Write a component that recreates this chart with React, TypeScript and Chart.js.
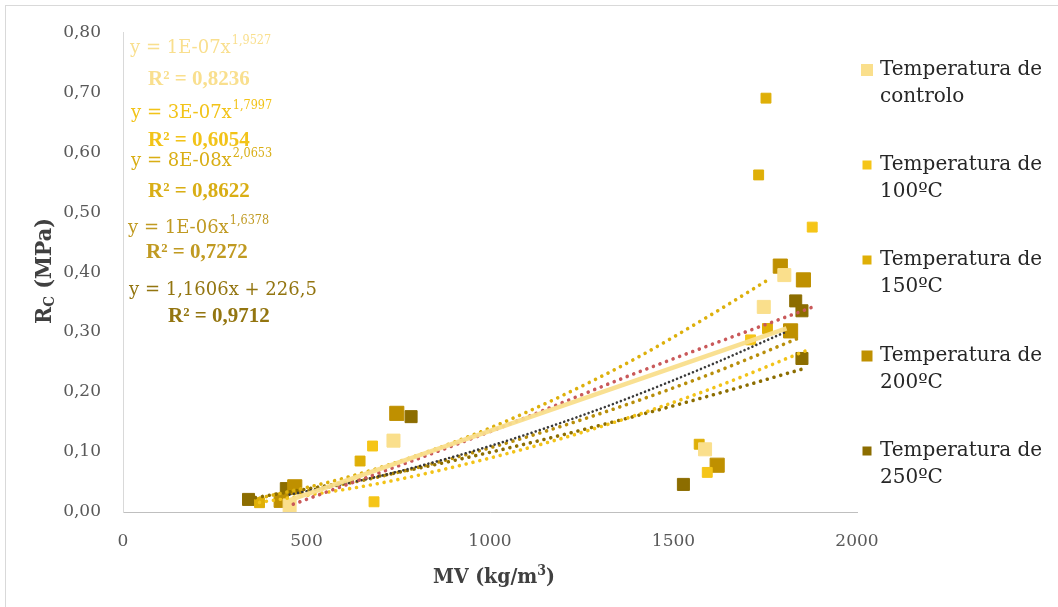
import React, { useEffect, useRef } from 'react';
import { Chart, registerables } from 'chart.js';

Chart.register(...registerables);

// ---------- data ----------
const legendLines: string[][] = [
  ['Temperatura de', 'controlo'],
  ['Temperatura de', '100ºC'],
  ['Temperatura de', '150ºC'],
  ['Temperatura de', '200ºC'],
  ['Temperatura de', '250ºC'],
];
const seriesColors = ['#FADF8C', '#F5C518', '#DFAF07', '#BF9000', '#8C6D00'];

const controloX = [454, 737, 1586, 1746, 1802];
const controloY = [0.011, 0.119, 0.1045, 0.342, 0.395];
const t100X = [680, 684, 1592, 1710, 1878];
const t100Y = [0.11, 0.017, 0.066, 0.287, 0.475];
const t150X = [372, 646, 1570, 1732, 1752, 1756];
const t150Y = [0.0155, 0.085, 0.113, 0.562, 0.69, 0.306];
const t200X = [431, 468, 746, 1619, 1791, 1819, 1854];
const t200Y = [0.0195, 0.042, 0.1645, 0.078, 0.41, 0.302, 0.387];
const t250X = [342, 445, 785, 1527, 1833, 1850, 1850];
const t250Y = [0.021, 0.039, 0.159, 0.046, 0.352, 0.3355, 0.256];

const trendPaleX = [454, 1808];
const trendPaleY = [0.02, 0.306];
const trendRedX = [464, 1000, 1395, 1876];
const trendRedY = [0.013, 0.134, 0.231, 0.341];
const trendGoldX = [372, 600, 800, 1000, 1200, 1400, 1600, 1752];
const trendGoldY = [0.023, 0.056, 0.094, 0.14, 0.195, 0.257, 0.328, 0.385];
const trendBlackX = [454, 700, 1000, 1300, 1600, 1805];
const trendBlackY = [0.029, 0.06, 0.11, 0.172, 0.245, 0.3];
const trendDarkGoldX = [431, 700, 1000, 1300, 1600, 1845];
const trendDarkGoldY = [0.027, 0.059, 0.107, 0.164, 0.23, 0.291];
const trendYellowX = [372, 700, 1000, 1300, 1600, 1865];
const trendYellowY = [0.016, 0.048, 0.09, 0.142, 0.205, 0.27];
const trendBrownX = [342, 700, 1000, 1300, 1600, 1849];
const trendBrownY = [0.022, 0.06, 0.0995, 0.1445, 0.194, 0.238];

const eqMain = ['y = 1E-07x', 'y = 3E-07x', 'y = 8E-08x', 'y = 1E-06x', 'y = 1,1606x + 226,5'];
const eqExp = ['1,9527', '1,7997', '2,0653', '1,6378', ''];
const eqR2 = ['0,8236', '0,6054', '0,8622', '0,7272', '0,9712'];
const eqColors = ['#F9DF8E', '#F2C318', '#D9AE15', '#C09A22', '#937510'];

const xTickValues = [0, 500, 1000, 1500, 2000];

// ---------- helpers ----------
const pts = (xs: number[], ys: number[]) => xs.map((x, i) => ({ x, y: ys[i] }));

const FONT = "'DejaVu Serif', serif";
const BOLD_FONT = "'DejaVu Serif Condensed', 'DejaVu Serif', serif";
const R2_FONT = "'Liberation Serif', serif";

const scatterSet = (label: string, xs: number[], ys: number[], color: string, r: number) => ({
  label,
  data: pts(xs, ys),
  backgroundColor: color,
  borderColor: color,
  borderWidth: 1,
  pointStyle: 'rect',
  pointRadius: r,
  pointHoverRadius: r,
  showLine: false,
  order: 1,
});

const trendSet = (xs: number[], ys: number[], color: string, width: number, dash: number[] | null) => ({
  label: '',
  data: pts(xs, ys),
  borderColor: color,
  backgroundColor: color,
  borderWidth: width,
  borderDash: dash || [],
  borderCapStyle: dash ? 'round' : 'butt',
  pointRadius: 0,
  showLine: true,
  cubicInterpolationMode: 'monotone',
  fill: false,
  order: 0,
});

const markerSides = [12, 9, 9, 11, 9];
const eqPos = [
  [130, 48, 148, 80],
  [131, 113, 148, 141],
  [131, 161, 148, 192],
  [128, 228, 146, 253],
  [129, 290, 168, 317],
];
const legendY = [70, 165, 260, 356, 451];

const overlayPlugin = {
  id: 'overlay',
  afterDraw(chart: any) {
    const ctx: CanvasRenderingContext2D = chart.ctx;
    ctx.save();
    ctx.textBaseline = 'middle';
    ctx.textAlign = 'left';
    // equations
    eqMain.forEach((t, i) => {
      const [x1, y1, x2, y2] = eqPos[i];
      ctx.fillStyle = eqColors[i];
      ctx.font = `18px ${FONT}`;
      ctx.fillText(t, x1, y1);
      if (eqExp[i]) {
        const w = ctx.measureText(t).width;
        ctx.font = `12.5px ${BOLD_FONT}`;
        ctx.fillText(eqExp[i], x1 + w + 1, y1 - 7);
      }
      ctx.font = `bold 21px ${R2_FONT}`;
      ctx.fillText('R² = ' + eqR2[i], x2, y2);
    });
    // legend
    legendLines.forEach((lines, i) => {
      const s = markerSides[i];
      ctx.fillStyle = seriesColors[i];
      ctx.fillRect(867 - s / 2, legendY[i] - s / 2, s, s);
      ctx.fillStyle = '#262626';
      ctx.font = `20px ${FONT}`;
      lines.forEach((l, j) => ctx.fillText(l, 880, legendY[i] + j * 27));
    });
    // x title
    ctx.fillStyle = '#404040';
    ctx.font = `bold 21px ${BOLD_FONT}`;
    const a = 'MV (kg/m';
    const wa = ctx.measureText(a).width;
    ctx.font = `bold 14px ${BOLD_FONT}`;
    const wb = ctx.measureText('3').width;
    ctx.font = `bold 21px ${BOLD_FONT}`;
    const wc = ctx.measureText(')').width;
    const x0 = 494 - (wa + wb + wc) / 2;
    ctx.fillText(a, x0, 578);
    ctx.font = `bold 14px ${BOLD_FONT}`;
    ctx.fillText('3', x0 + wa, 571);
    ctx.font = `bold 21px ${BOLD_FONT}`;
    ctx.fillText(')', x0 + wa + wb, 578);
    // y title
    ctx.translate(45, 271);
    ctx.rotate(-Math.PI / 2);
    ctx.font = `bold 23px ${BOLD_FONT}`;
    const r1 = ctx.measureText('R').width;
    ctx.font = `bold 15px ${BOLD_FONT}`;
    const r2 = ctx.measureText('C').width;
    ctx.font = `bold 23px ${BOLD_FONT}`;
    const r3 = ctx.measureText(' (MPa)').width;
    const start = -(r1 + r2 + r3) / 2;
    ctx.fillText('R', start, 0);
    ctx.font = `bold 15px ${BOLD_FONT}`;
    ctx.fillText('C', start + r1, 5);
    ctx.font = `bold 23px ${BOLD_FONT}`;
    ctx.fillText(' (MPa)', start + r1 + r2, 0);
    ctx.restore();
  },
};

export default function App() {
  const ref = useRef<HTMLCanvasElement>(null);
  useEffect(() => {
    const chart = new Chart(ref.current as HTMLCanvasElement, {
      type: 'scatter',
      data: {
        datasets: [
          trendSet(trendPaleX, trendPaleY, 'rgba(249,222,140,0.95)', 4.5, null),
          trendSet(trendRedX, trendRedY, '#C9595A', 3.6, [0.01, 7]),
          trendSet(trendGoldX, trendGoldY, '#DDB00C', 3.6, [0.01, 7]),
          trendSet(trendBlackX, trendBlackY, '#3A3A3A', 2.6, [0.01, 4.3]),
          trendSet(trendDarkGoldX, trendDarkGoldY, '#B88E0A', 3.6, [0.01, 7]),
          trendSet(trendYellowX, trendYellowY, '#F2C318', 3.6, [0.01, 7]),
          trendSet(trendBrownX, trendBrownY, '#8C6D00', 3.6, [0.01, 7]),
          scatterSet(legendLines[0].join(' '), controloX, controloY, seriesColors[0], 9.2),
          scatterSet(legendLines[1].join(' '), t100X, t100Y, seriesColors[1], 7),
          scatterSet(legendLines[2].join(' '), t150X, t150Y, seriesColors[2], 7),
          scatterSet(legendLines[3].join(' '), t200X, t200Y, seriesColors[3], 10),
          scatterSet(legendLines[4].join(' '), t250X, t250Y, seriesColors[4], 8.5),
        ] as any,
      },
      options: {
        responsive: false,
        animation: false,
        events: [],
        layout: { padding: { left: 0, top: 32, right: 201, bottom: 0 } },
        plugins: { legend: { display: false }, tooltip: { enabled: false } },
        scales: {
          x: {
            type: 'linear',
            min: 0,
            max: 2000,
            afterBuildTicks: (s: any) => {
              s.ticks = xTickValues.map((v) => ({ value: v }));
            },
            afterFit: (s: any) => {
              s.height = 95;
            },
            grid: { display: false, drawTicks: false },
            border: { display: true, color: '#BFBFBF', width: 1 },
            ticks: {
              padding: 19,
              color: '#595959',
              font: { family: FONT, size: 17 },
              callback: (v: any) => String(v),
            },
          },
          y: {
            type: 'linear',
            min: 0,
            max: 0.8,
            afterFit: (s: any) => {
              s.width = 123;
            },
            grid: { display: false, drawTicks: false },
            border: { display: true, color: '#D9D9D9', width: 1 },
            ticks: {
              stepSize: 0.1,
              padding: 22,
              color: '#595959',
              font: { family: FONT, size: 17 },
              callback: (v: any) => Number(v).toFixed(2).replace('.', ','),
            },
          },
        },
      },
      plugins: [overlayPlugin],
    });
    return () => chart.destroy();
  }, []);
  return (
    <div style={{ position: 'fixed', left: 0, top: 0, width: 1058, height: 607, overflow: 'hidden', background: '#fff' }}>
      <div style={{ position: 'absolute', left: 5, top: 5, width: 1300, height: 900, border: '1px solid #D9D9D9' }} />
      <canvas ref={ref} width={1058} height={607} style={{ position: 'absolute', left: 0, top: 0, width: 1058, height: 607 }} />
    </div>
  );
}
